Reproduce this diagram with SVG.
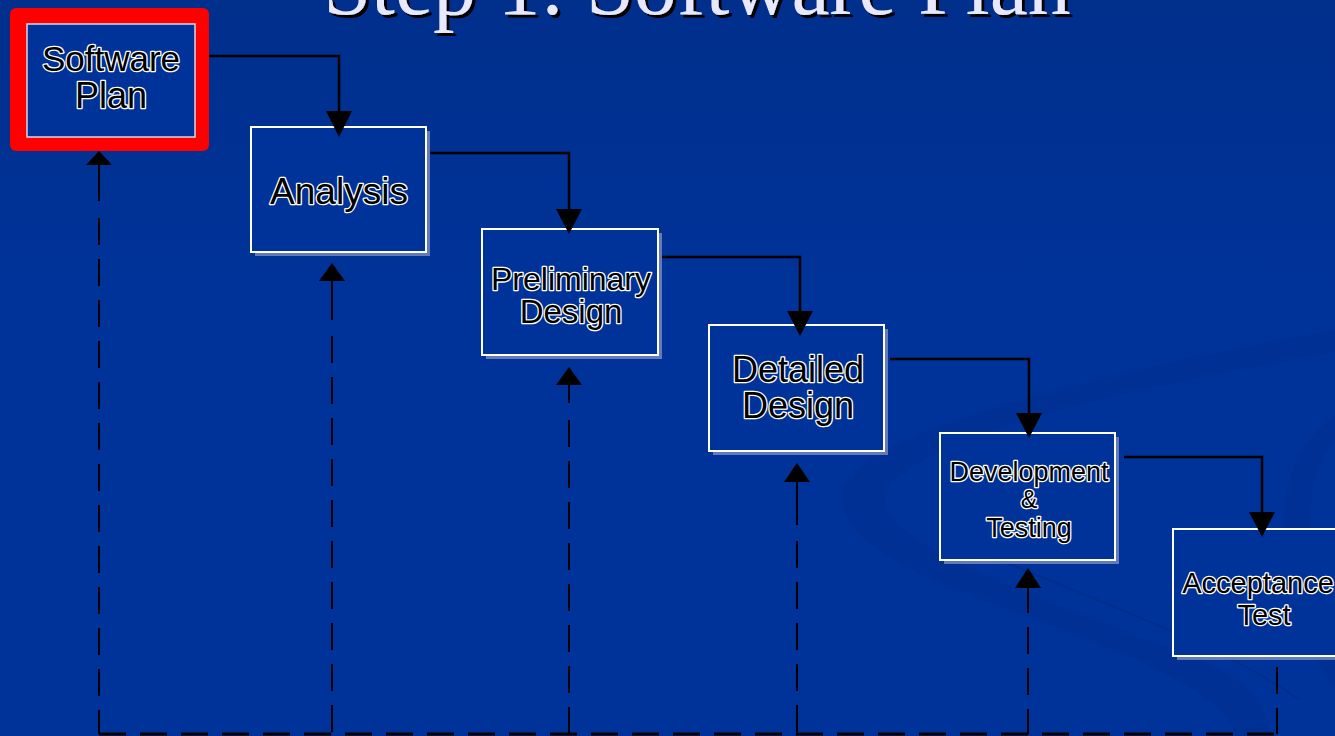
<svg xmlns="http://www.w3.org/2000/svg" width="1335" height="736" viewBox="0 0 1335 736">
  <defs>
    <linearGradient id="bg" x1="0" y1="0" x2="0" y2="1">
      <stop offset="0" stop-color="#002f8c"/>
      <stop offset="0.4" stop-color="#003399"/>
      <stop offset="1" stop-color="#003399"/>
    </linearGradient>
    <filter id="tshadow" x="-5%" y="-20%" width="110%" height="150%">
      <feDropShadow dx="3" dy="3" stdDeviation="0" flood-color="#000000" flood-opacity="1"/>
    </filter>
    <style>
      .box { fill: #003399; stroke: #ffffff; stroke-width: 2; }
      .shadow { fill: #7d8cc0; opacity: 0.8; }
      .lbl { font-family: "Liberation Sans", Arial, sans-serif; fill: #000000; stroke: #ffffff; stroke-width: 2.6; paint-order: stroke fill; text-anchor: middle; stroke-linejoin: round; }
      .flow { fill: none; stroke: #000000; stroke-width: 2.5; }
      .fb { fill: none; stroke: #000000; stroke-width: 2; }
      .dash { fill: none; stroke: #000000; stroke-width: 2; stroke-dasharray: 27 14; }
      .head { fill: #000000; }
      .title { font-family: "Liberation Serif", "Times New Roman", serif; font-size: 86px; text-anchor: middle; fill: #e8e8ff; }
    </style>
  </defs>

  <rect x="0" y="0" width="1335" height="736" fill="url(#bg)"/>

  <!-- background swirl -->
  <g id="swirl" fill="#002d8c" opacity="0.45">
    <path d="M 842 500 C 836 440 1060 380 1335 330 L 1335 352 C 1110 392 905 440 885 495 C 875 545 1050 600 1200 660 C 1250 682 1270 710 1268 736 L 1236 736 C 1230 700 1150 660 1010 610 C 900 570 846 540 842 500 Z"/>
    <path d="M 1285 540 C 1280 480 1300 440 1335 415 L 1335 440 C 1315 460 1308 500 1312 540 C 1318 600 1335 640 1335 640 L 1335 690 C 1300 640 1288 590 1285 540 Z"/>
  </g>
  <path d="M 1000 560 C 1120 610 1230 650 1300 700" fill="none" stroke="#002a80" stroke-width="2" opacity="0.5"/>

  <!-- title -->
  <g id="title">
    <text class="title" x="697" y="14" filter="url(#tshadow)">Step 1: Software Plan</text>
  </g>

  <!-- nodes -->
  <g id="software-plan">
    <rect x="10" y="8" width="199" height="143" rx="6" fill="#ff0000"/>
    <rect x="27" y="24" width="168" height="113" fill="#003399" stroke="#d8d8e8" stroke-width="1.5"/>
    <text class="lbl" x="111" y="71" font-size="35">Software</text>
    <text class="lbl" x="111" y="108" font-size="36">Plan</text>
  </g>

  <g id="analysis">
    <rect class="shadow" x="255" y="131" width="175" height="125"/>
    <rect class="box" x="251" y="127" width="175" height="125"/>
    <text class="lbl" x="339" y="204" font-size="37">Analysis</text>
  </g>

  <g id="preliminary-design">
    <rect class="shadow" x="486" y="233" width="176" height="126"/>
    <rect class="box" x="482" y="229" width="176" height="126"/>
    <text class="lbl" x="571" y="290" font-size="32">Preliminary</text>
    <text class="lbl" x="571" y="323" font-size="33">Design</text>
  </g>

  <g id="detailed-design">
    <rect class="shadow" x="713" y="329" width="175" height="126"/>
    <rect class="box" x="709" y="325" width="175" height="126"/>
    <text class="lbl" x="798" y="382" font-size="36">Detailed</text>
    <text class="lbl" x="798" y="418" font-size="36">Design</text>
  </g>

  <g id="development-testing">
    <rect class="shadow" x="944" y="437" width="175" height="127"/>
    <rect class="box" x="940" y="433" width="175" height="127"/>
    <text class="lbl" x="1029" y="481" font-size="27">Development</text>
    <text class="lbl" x="1029" y="508" font-size="25">&amp;</text>
    <text class="lbl" x="1029" y="537" font-size="27">Testing</text>
  </g>

  <g id="acceptance-test">
    <rect class="shadow" x="1177" y="533" width="175" height="127"/>
    <rect class="box" x="1173" y="529" width="175" height="127"/>
    <text class="lbl" x="1258" y="593" font-size="29">Acceptance</text>
    <text class="lbl" x="1264" y="625" font-size="29">Test</text>
  </g>

  <!-- connectors -->
  <g id="connectors">
    <path class="flow" d="M 209 56 H 339 V 114"/>
    <polygon class="head" points="326,111 352,111 339,137"/>
    <path class="flow" d="M 430 153 H 569 V 212"/>
    <polygon class="head" points="556,209 582,209 569,234"/>
    <path class="flow" d="M 662 257 H 800 V 314"/>
    <polygon class="head" points="787,311 813,311 800,336"/>
    <path class="flow" d="M 890 359 H 1029 V 416"/>
    <polygon class="head" points="1016,413 1042,413 1029,438"/>
    <path class="flow" d="M 1124 457 H 1262 V 515"/>
    <polygon class="head" points="1249,512 1275,512 1262,537"/>

    <polygon class="head" points="86,165 112,165 99,151"/>
    <path class="fb" d="M 99 163 V 201"/>
    <path class="dash" d="M 99 218 V 734"/>

    <polygon class="head" points="319,281 345,281 332,263"/>
    <path class="fb" d="M 332 279 V 320"/>
    <path class="dash" d="M 332 336 V 734"/>

    <polygon class="head" points="556,385 582,385 569,367"/>
    <path class="fb" d="M 569 383 V 403"/>
    <path class="dash" d="M 569 420 V 734"/>

    <polygon class="head" points="784,482 810,482 797,463"/>
    <path class="fb" d="M 797 480 V 525"/>
    <path class="dash" d="M 797 541 V 734"/>

    <polygon class="head" points="1015,588 1041,588 1028,568"/>
    <path class="fb" d="M 1028 586 V 613"/>
    <path class="dash" d="M 1028 627 V 734"/>

    <path class="dash" d="M 1277 667 V 734"/>

    <path class="dash" style="stroke-width:3" d="M 99 734 H 1277"/>
  </g>
</svg>
